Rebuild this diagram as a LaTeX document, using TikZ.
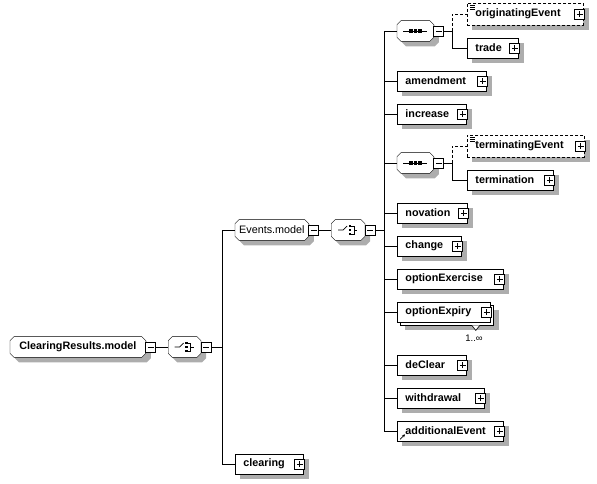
\documentclass[tikz,border=0pt]{standalone}
\usepackage{fontspec}
\setmainfont{Liberation Sans}
\usetikzlibrary{positioning, arrows.meta}
\pgfdeclarelayer{background}
\pgfsetlayers{background,main}
% octagon round a node: #1 node, #2/#3 offset
\newcommand\octpath[3]{([shift={(#2+4,#3)}]#1.north west) -- ([shift={(#2-4,#3)}]#1.north east)
  -- ([shift={(#2,#3+4)}]#1.north east) -- ([shift={(#2,#3-4)}]#1.south east)
  -- ([shift={(#2-4,#3)}]#1.south east) -- ([shift={(#2+4,#3)}]#1.south west)
  -- ([shift={(#2,#3-4)}]#1.south west) -- ([shift={(#2,#3+4)}]#1.north west) -- cycle}

\begin{document}
\begin{tikzpicture}[x=1pt, y=-1pt, line width=0.8pt, >=Stealth,
    font=\fontsize{10.8}{12}\selectfont,
    box/.style={draw, fill=white, anchor=west, minimum height=20pt, inner xsep=8pt, inner ysep=0pt, align=left, font=\fontsize{10.8}{12}\selectfont\bfseries},
    elem/.style={box},
    optline/.style={dash pattern=on 3pt off 2pt},
    optelem/.style={elem, optline, minimum height=22pt},
    shadowbox/.style={fill=black!32, draw=none},
    group/.style={anchor=west, minimum height=20pt, inner sep=0pt},
    seqcomp/.style={group, minimum width=36pt, path picture={
        \begin{scope}[shift={(path picture bounding box.center)}, line width=0.8pt]
          \draw (-12,0) -- (12,0);
          \foreach \d in {-4.5,0,4.5} \fill (\d-1.8,-1.6) rectangle ++(3.6,3.2);
        \end{scope}}},
    choicecomp/.style={group, minimum width=#1, path picture={
        \begin{scope}[shift={(path picture bounding box.center)}, line width=0.7pt]
          \draw (-10,0) -- (-5,0) -- (-1,-4);
          \foreach \d in {-4,0,4} \fill (0.5,\d-1.2) rectangle ++(2.4,2.4);
          \draw (3,-4) -- (6,-4) -- (6,4) -- (3,4);
          \draw (6,0) -- (9,0);
        \end{scope}}},
    minus/.style={draw, fill=white, minimum size=10pt, inner sep=0pt, path picture={
        \draw ([xshift=2pt]path picture bounding box.west) -- ([xshift=-2pt]path picture bounding box.east);}},
    plus/.style={minus, path picture={
        \draw ([xshift=2pt]path picture bounding box.west) -- ([xshift=-2pt]path picture bounding box.east);
        \draw ([yshift=2pt]path picture bounding box.south) -- ([yshift=-2pt]path picture bounding box.north);}}]

  \useasboundingbox (0,0) rectangle (597,484);

  % Root model group
  \node[group, minimum width=135pt, font=\fontsize{10.8}{12}\selectfont\bfseries] (crm) at (10,347) {ClearingResults.model};
  \node[minus] (crm-m) at ([xshift=5pt]crm.east) {};
  \node[choicecomp=32pt, right=12pt of crm-m] (ch0) {};
  \node[minus] (ch0-m) at ([xshift=5pt]ch0.east) {};

  % Events.model group
  \node[group, minimum width=73pt] (evm) at (235,230) {Events.model};
  \node[minus] (evm-m) at ([xshift=5pt]evm.east) {};
  \node[choicecomp=33pt, right=12pt of evm-m] (ch1) {};
  \node[minus] (ch1-m) at ([xshift=5pt]ch1.east) {};

  % Sequence compositors
  \node[seqcomp] (sqA) at (397,31) {};
  \node[minus] (sqA-m) at ([xshift=5pt]sqA.east) {};
  \node[seqcomp] (sqB) at (397,163) {};
  \node[minus] (sqB-m) at ([xshift=5pt]sqB.east) {};

  % Optional elements
  \foreach \n/\t/\y/\r in {origEv/originatingEvent/14/583, termEv/terminatingEvent/146/584} {
    \pgfmathsetmacro\tw{\r-467-16}
    \node[optelem, text width=\tw pt] (\n) at (467,\y) {\t};
    \node[plus] (\n-p) at ([xshift=-4pt]\n.east) {};
    \foreach \k in {0,2,4} \draw[line width=0.6pt] ([shift={(3,3+\k)}]\n.north west) -- ++(5,0);
  }

  % Elements
  \foreach \n/\t/\l/\y/\r in {trade/trade/467/48/518, amendment/amendment/397/81/486,
      increase/increase/397/114/466, termination/termination/467/180/553,
      novation/novation/397/213/467, change/change/397/246/461,
      optionExercise/optionExercise/397/279/503, deClear/deClear/397/365/466,
      withdrawal/withdrawal/397/398/484, additionalEvent/additionalEvent/397/431/503,
      clearing/clearing/235/464/303} {
    \pgfmathsetmacro\tw{\r-\l-16}
    \node[elem, text width=\tw pt] (\n) at (\l,\y) {\t};
    \node[plus] (\n-p) at ([xshift=-4pt]\n.east) {};
  }

  % Repeated element
  \node[elem, text width=77pt] (optExpB) at (400,315) {};
  \node[box, text width=77pt] (optionExpiry) at (397,312) {optionExpiry};
  \node[plus] (optionExpiry-p) at ([xshift=-4pt]optionExpiry.east) {};
  \draw[fill=white, line width=0.6pt] ([xshift=-22pt]optExpB.south east) -- ++(4,5) -- ++(4,-5);
  \node[font=\fontsize{9.5}{11}\selectfont] (occ) at (474,338) {1..∞};

  % Shadows and octagon outlines
  \begin{pgfonlayer}{background}
    \foreach \n in {origEv, termEv, trade, amendment, increase, termination, novation, change,
        optionExercise, deClear, withdrawal, additionalEvent, clearing, optExpB}
      \path[shadowbox] ([shift={(5,5)}]\n.north west) rectangle ([shift={(5,5)}]\n.south east);
    \foreach \n in {crm, evm, ch0, ch1, sqA, sqB} {
      \path[shadowbox] \octpath{\n}{5}{5};
      \draw[fill=white] \octpath{\n}{0}{0};
    }
  \end{pgfonlayer}

  % Reference arrow
  \draw[-{Stealth[length=3pt,width=3pt]}, line width=0.7pt]
    ([shift={(3,-2)}]additionalEvent.south west) -- ++(5,-5);

  % Connectors
  \coordinate (jA) at (222,347);
  \coordinate (jB) at (384,230);
  \coordinate (jC) at (452,31);
  \coordinate (jD) at (452,163);
  \draw (crm-m) -- (ch0);
  \draw (ch0-m.east) -- (jA);
  \draw (jA) |- (evm.west);
  \draw (jA) |- (clearing.west);
  \draw (evm-m) -- (ch1);
  \draw (ch1-m.east) -- (jB);
  \foreach \n in {sqA, amendment, increase, sqB, novation, change, optionExercise,
      optionExpiry, deClear, withdrawal, additionalEvent}
    \draw (jB) |- (\n.west);
  \draw (sqA-m.east) -- (jC);
  \draw[optline] (jC) |- (origEv.west);
  \draw (jC) |- (trade.west);
  \draw (sqB-m.east) -- (jD);
  \draw[optline] (jD) |- (termEv.west);
  \draw (jD) |- (termination.west);
\end{tikzpicture}
\end{document}
